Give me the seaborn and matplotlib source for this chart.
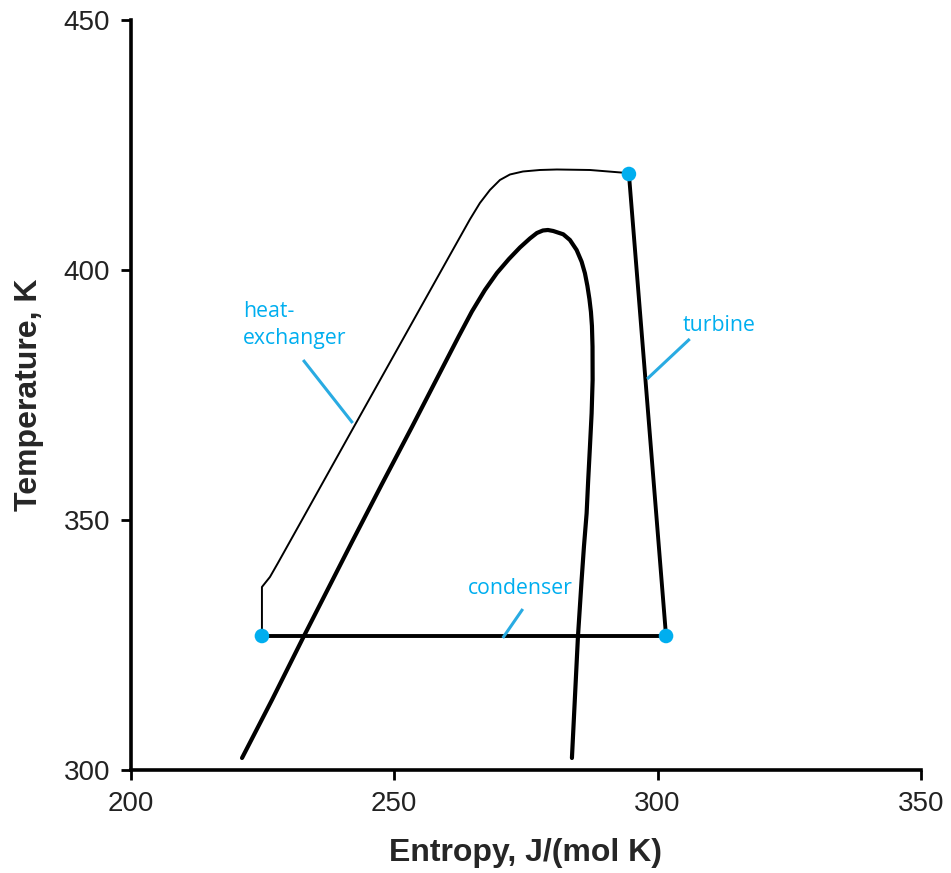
"""
T-S diagram of an organic Rankine cycle with the saturation dome
"""
import pandas as pd
import seaborn as sns
import matplotlib
matplotlib.use('Agg')
import matplotlib.pyplot as plt

# ==================== data ====================
# saturation dome (entropy J/(mol K), temperature K)
dome_s = [221.09, 226.77, 232.66, 241.96, 247.66, 253.35, 259.62, 262.27, 264.74,
          267.21, 269.49, 271.77, 273.86, 275.75, 277.08, 278.22, 279.17, 280.18,
          282.08, 283.35, 284.62, 285.57, 286.20, 286.67, 287.05, 287.34, 287.53,
          287.64, 287.66, 287.47, 287.15, 286.82, 286.52, 286.01, 285.57, 284.87, 283.73]
dome_t = [302.4, 314.0, 326.4, 345.6, 357.2, 368.6, 381.4, 386.8, 391.7,
          396.0, 399.4, 402.2, 404.5, 406.3, 407.4, 407.9, 408.0, 407.8,
          407.14, 406.0, 404.0, 401.66, 399.34, 396.8, 394.2, 391.6, 388.8,
          384.66, 378.0, 371.34, 364.66, 358.0, 351.34, 344.66, 338.0, 326.6, 302.4]

# heat-exchanger path (pump exit -> turbine inlet)
hx_s = [224.87, 224.87, 226.39, 227.91, 232.09, 241.57, 251.07, 260.57, 264.36,
        266.26, 268.16, 270.06, 271.96, 274.43, 277.65, 280.88, 287.15, 294.17, 294.55]
hx_t = [326.8, 336.6, 338.6, 341.4, 349.28, 367.2, 385.1, 403.0, 410.12,
        413.4, 416.0, 418.0, 419.1, 419.7, 420.0, 420.1, 420.0, 419.4, 419.2]

# turbine and condenser
turb_s = [294.55, 301.6]
turb_t = [419.2, 326.8]
cond_s = [301.6, 224.87]
cond_t = [326.8, 326.8]

# cycle state points
state_s = [224.87, 294.55, 301.6]
state_t = [326.8, 419.2, 326.8]

# labels: text, text anchor (s, t), leader start, leader end
labels = ["heat-\nexchanger", "turbine", "condenser"]
label_s = [221.3, 304.8, 264.0]
label_t = [389.0, 388.8, 336.2]
leader_s0 = [232.7, 306.1, 274.4]
leader_t0 = [382.0, 386.2, 332.2]
leader_s1 = [242.1, 298.0, 270.6]
leader_t1 = [369.4, 378.2, 326.4]

x_ticks = [200, 250, 300, 350]
y_ticks = [300, 350, 400, 450]

CYAN = '#00AEEF'
LEADER = '#29ABE2'

sns.set_style('ticks')
plt.rcParams['font.family'] = ['Liberation Sans', 'DejaVu Sans']

fig = plt.figure(figsize=(9.51, 8.73), dpi=100)
ax = fig.add_axes([0.1377, 0.118, 0.8307, 0.8591])

dome = pd.DataFrame({'s': dome_s, 't': dome_t})
hx = pd.DataFrame({'s': hx_s, 't': hx_t})
turb = pd.DataFrame({'s': turb_s, 't': turb_t})
cond = pd.DataFrame({'s': cond_s, 't': cond_t})
states = pd.DataFrame({'s': state_s, 't': state_t})

sns.lineplot(data=dome, x='s', y='t', sort=False, estimator=None, color='black',
             linewidth=3.0, solid_joinstyle='round', ax=ax)
sns.lineplot(data=hx, x='s', y='t', sort=False, estimator=None, color='black',
             linewidth=1.4, solid_joinstyle='round', ax=ax)
sns.lineplot(data=turb, x='s', y='t', sort=False, estimator=None, color='black',
             linewidth=2.8, ax=ax)
sns.lineplot(data=cond, x='s', y='t', sort=False, estimator=None, color='black',
             linewidth=2.8, ax=ax)
sns.scatterplot(data=states, x='s', y='t', color=CYAN, s=110, edgecolor='none',
                zorder=5, clip_on=False, ax=ax)

for i, text in enumerate(labels):
    ax.text(label_s[i], label_t[i], text, color=CYAN, fontsize=15.3,
            family=['Open Sans', 'DejaVu Sans'], ha='left', va='center',
            linespacing=1.4)
    ax.plot([leader_s0[i], leader_s1[i]], [leader_t0[i], leader_t1[i]],
            color=LEADER, linewidth=2.2, solid_capstyle='butt')

ax.set_xlim(200, 350)
ax.set_ylim(300, 450)
ax.set_xticks(x_ticks)
ax.set_yticks(y_ticks)
ax.tick_params(axis='both', direction='out', length=7, width=2, labelsize=20,
               pad=8, colors='black', labelcolor='#222222')

for side in ['top', 'right']:
    ax.spines[side].set_visible(False)
for side in ['left', 'bottom']:
    ax.spines[side].set_linewidth(2.6)
    ax.spines[side].set_color('black')

ax.set_xlabel("Entropy, J/(mol K)", fontsize=23, fontweight='bold', labelpad=15)
ax.set_ylabel("Temperature, K", fontsize=23, fontweight='bold', labelpad=14)

plt.savefig('out.png', dpi=100)
plt.close('all')
